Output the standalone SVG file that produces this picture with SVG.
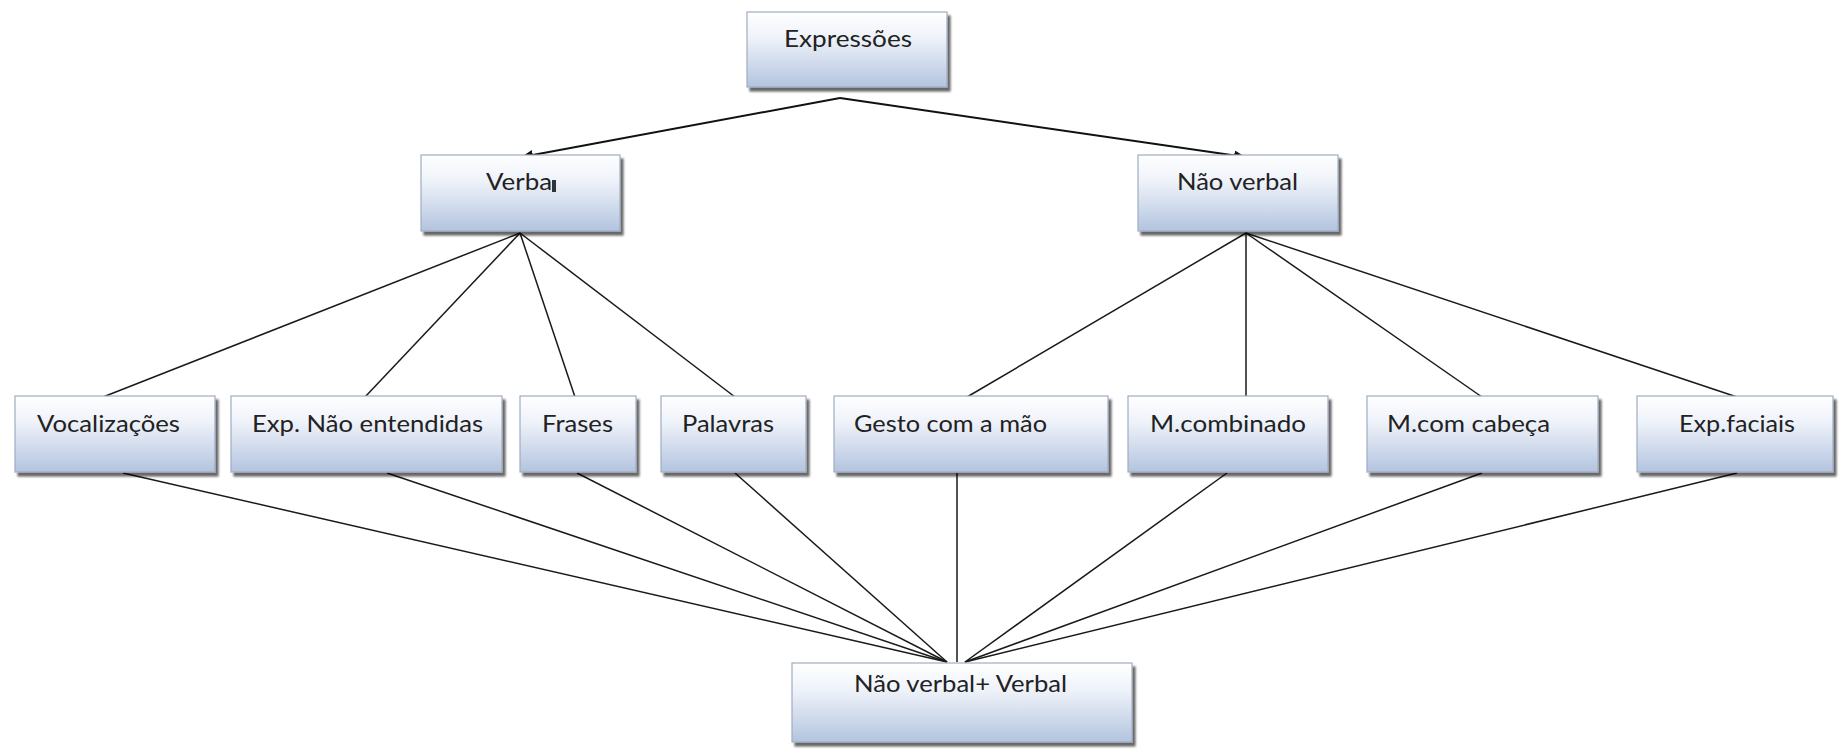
<svg xmlns="http://www.w3.org/2000/svg" width="1844" height="754" viewBox="0 0 1844 754">
  <defs>
    <linearGradient id="boxFill" x1="0" y1="0" x2="0" y2="1">
      <stop offset="0" stop-color="#ffffff"/>
      <stop offset="0.35" stop-color="#eef2f9"/>
      <stop offset="1" stop-color="#b3c4df"/>
    </linearGradient>
    <filter id="shadow" x="-5%" y="-10%" width="115%" height="130%">
      <feGaussianBlur in="SourceAlpha" stdDeviation="1.2"/>
      <feOffset dx="3" dy="4" result="off"/>
      <feComponentTransfer><feFuncA type="linear" slope="0.6"/></feComponentTransfer>
      <feMerge><feMergeNode/><feMergeNode in="SourceGraphic"/></feMerge>
    </filter>
    <marker id="arrow" viewBox="0 0 12 10" refX="11" refY="5" markerWidth="12" markerHeight="10" markerUnits="userSpaceOnUse" orient="auto">
      <path d="M0,0 L12,5 L0,10 Z" fill="#111"/>
    </marker>
    <style>
      .box { fill: url(#boxFill); stroke: #9eacc2; stroke-width: 1.2; filter: url(#shadow); }
      .label { font-family: Lato, "Open Sans", "Liberation Sans", sans-serif; font-size: 23px; fill: #222; }
      .link { stroke: #1a1a1a; stroke-width: 1.5; fill: none; }
      .arrow { stroke: #111; stroke-width: 2; fill: none; marker-end: url(#arrow); }
    </style>
  </defs>

  <rect width="1844" height="754" fill="#ffffff"/>

  <!-- connectors -->
  <g id="connectors">
    <!-- root to the two branches -->
    <line class="arrow" x1="840" y1="98" x2="522" y2="157"/>
    <line class="arrow" x1="840" y1="98" x2="1245" y2="157"/>
    <!-- Verbal branch -->
    <line class="link" x1="520" y1="233" x2="103" y2="397"/>
    <line class="link" x1="520" y1="233" x2="365" y2="397"/>
    <line class="link" x1="520" y1="233" x2="575" y2="397"/>
    <line class="link" x1="520" y1="233" x2="735" y2="397"/>
    <!-- Nao verbal branch -->
    <line class="link" x1="1246" y1="233" x2="967" y2="397"/>
    <line class="link" x1="1246" y1="233" x2="1246" y2="397"/>
    <line class="link" x1="1246" y1="233" x2="1482" y2="397"/>
    <line class="link" x1="1246" y1="233" x2="1737" y2="397"/>
    <!-- everything converging on the combined node -->
    <line class="link" x1="123" y1="473" x2="947" y2="662"/>
    <line class="link" x1="387" y1="473" x2="947" y2="662"/>
    <line class="link" x1="577" y1="473" x2="947" y2="662"/>
    <line class="link" x1="735" y1="473" x2="947" y2="662"/>
    <line class="link" x1="957" y1="473" x2="957" y2="662"/>
    <line class="link" x1="1227" y1="473" x2="965" y2="662"/>
    <line class="link" x1="1482" y1="473" x2="965" y2="662"/>
    <line class="link" x1="1737" y1="473" x2="965" y2="662"/>
  </g>

  <!-- nodes -->
  <g id="expressoes">
    <rect class="box" x="747" y="12" width="200" height="75"/>
    <text class="label" x="784" y="47" textLength="128" lengthAdjust="spacingAndGlyphs">Expressões</text>
  </g>
  <g id="verbal">
    <rect class="box" x="421" y="155" width="199" height="76"/>
    <text class="label" x="486" y="190" textLength="66" lengthAdjust="spacingAndGlyphs">Verba</text>
    <rect x="552" y="180" width="4" height="12" fill="#333"/>
  </g>
  <g id="nao-verbal">
    <rect class="box" x="1138" y="155" width="200" height="76"/>
    <text class="label" x="1177" y="190" textLength="121" lengthAdjust="spacingAndGlyphs">Não verbal</text>
  </g>
  <g id="vocalizacoes">
    <rect class="box" x="15" y="396" width="200" height="76"/>
    <text class="label" x="37" y="432" textLength="143" lengthAdjust="spacingAndGlyphs">Vocalizações</text>
  </g>
  <g id="exp-nao-entendidas">
    <rect class="box" x="231" y="396" width="271" height="76"/>
    <text class="label" x="252" y="432" textLength="231" lengthAdjust="spacingAndGlyphs">Exp. Não entendidas</text>
  </g>
  <g id="frases">
    <rect class="box" x="520" y="396" width="116" height="76"/>
    <text class="label" x="542" y="432" textLength="71" lengthAdjust="spacingAndGlyphs">Frases</text>
  </g>
  <g id="palavras">
    <rect class="box" x="661" y="396" width="145" height="76"/>
    <text class="label" x="682" y="432" textLength="92" lengthAdjust="spacingAndGlyphs">Palavras</text>
  </g>
  <g id="gesto-com-a-mao">
    <rect class="box" x="834" y="396" width="274" height="76"/>
    <text class="label" x="854" y="432" textLength="193" lengthAdjust="spacingAndGlyphs">Gesto com a mão</text>
  </g>
  <g id="m-combinado">
    <rect class="box" x="1128" y="396" width="200" height="76"/>
    <text class="label" x="1150" y="432" textLength="156" lengthAdjust="spacingAndGlyphs">M.combinado</text>
  </g>
  <g id="m-com-cabeca">
    <rect class="box" x="1367" y="396" width="231" height="76"/>
    <text class="label" x="1387" y="432" textLength="163" lengthAdjust="spacingAndGlyphs">M.com cabeça</text>
  </g>
  <g id="exp-faciais">
    <rect class="box" x="1637" y="396" width="196" height="76"/>
    <text class="label" x="1679" y="432" textLength="116" lengthAdjust="spacingAndGlyphs">Exp.faciais</text>
  </g>
  <g id="nao-verbal-verbal">
    <rect class="box" x="792" y="663" width="340" height="79"/>
    <text class="label" x="854" y="692" textLength="213" lengthAdjust="spacingAndGlyphs">Não verbal+ Verbal</text>
  </g>
</svg>
